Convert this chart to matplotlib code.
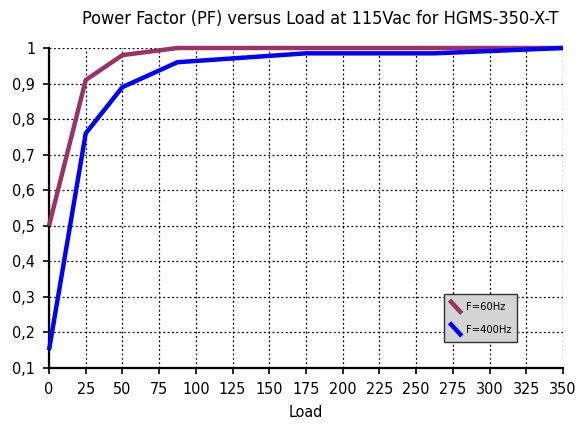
import matplotlib
matplotlib.use("Agg")
import matplotlib.pyplot as plt
from matplotlib.legend_handler import HandlerLine2D
from matplotlib.lines import Line2D
from matplotlib.ticker import FuncFormatter

# data
load = [0, 25, 50, 87.5, 175, 262.5, 350]
pf_60hz = [0.50, 0.91, 0.98, 1.00, 1.00, 1.00, 1.00]
pf_400hz = [0.15, 0.76, 0.89, 0.96, 0.985, 0.985, 1.00]
x_ticks = list(range(0, 351, 25))
y_ticks = [0.1, 0.2, 0.3, 0.4, 0.5, 0.6, 0.7, 0.8, 0.9, 1.0]

col_60 = "#993366"
col_400 = "#0000ff"


class DiagHandler(HandlerLine2D):
    # legend key drawn as a short diagonal stroke
    def create_artists(self, legend, orig_handle, xdescent, ydescent,
                       width, height, fontsize, trans):
        mid = height / 2 - ydescent
        d = 0.6 * fontsize
        ln = Line2D([-xdescent, width - xdescent], [mid + d, mid - d])
        self.update_prop(ln, orig_handle, legend)
        ln.set_transform(trans)
        return [ln]


plt.rcParams['font.family'] = ['DejaVu Sans']
plt.rcParams['font.stretch'] = 'condensed'
fig = plt.figure(figsize=(5.86, 4.28), dpi=100)
ax = fig.add_axes([49/586, 60/428, 514/586, 320/428])

ax.plot(load, pf_60hz, color=col_60, lw=3.2, label="F=60Hz", solid_capstyle="butt", zorder=3, clip_on=False)
ax.plot(load, pf_400hz, color=col_400, lw=3.2, label="F=400Hz", solid_capstyle="butt", zorder=3, clip_on=False)

ax.set_xlim(0, 350)
ax.set_ylim(0.1, 1.0)
ax.set_xticks(x_ticks)
ax.set_yticks(y_ticks)
ax.yaxis.set_major_formatter(FuncFormatter(lambda v, p: "1" if abs(v - 1) < 1e-9 else ("%.1f" % v).replace(".", ",")))
ax.grid(True, color="black", linestyle=(0, (1.5, 2)), linewidth=0.9)
ax.set_axisbelow(True)
for s in ["top", "right"]:
    ax.spines[s].set_visible(False)
for s in ["left", "bottom"]:
    ax.spines[s].set_linewidth(1.6)
ax.tick_params(direction="out", length=4, width=1.2, labelsize=11.5, pad=6)

ax.set_title("Power Factor (PF) versus Load at 115Vac for HGMS-350-X-T", fontsize=13, pad=17, x=0.527)
ax.set_xlabel("Load", fontsize=11.5, labelpad=6)

leg = ax.legend(loc="lower right", bbox_to_anchor=(0.911, 0.081), fontsize=8,
                handler_map={Line2D: DiagHandler()}, handlelength=1.1, handleheight=1.6,
                handletextpad=0.4, frameon=True, fancybox=False, borderpad=0.5,
                labelspacing=0.75, borderaxespad=0)
leg.get_frame().set_facecolor("#d4d4d4")
leg.get_frame().set_edgecolor("#333333")
leg.get_frame().set_alpha(1)

fig.savefig("out.png", dpi=100)
